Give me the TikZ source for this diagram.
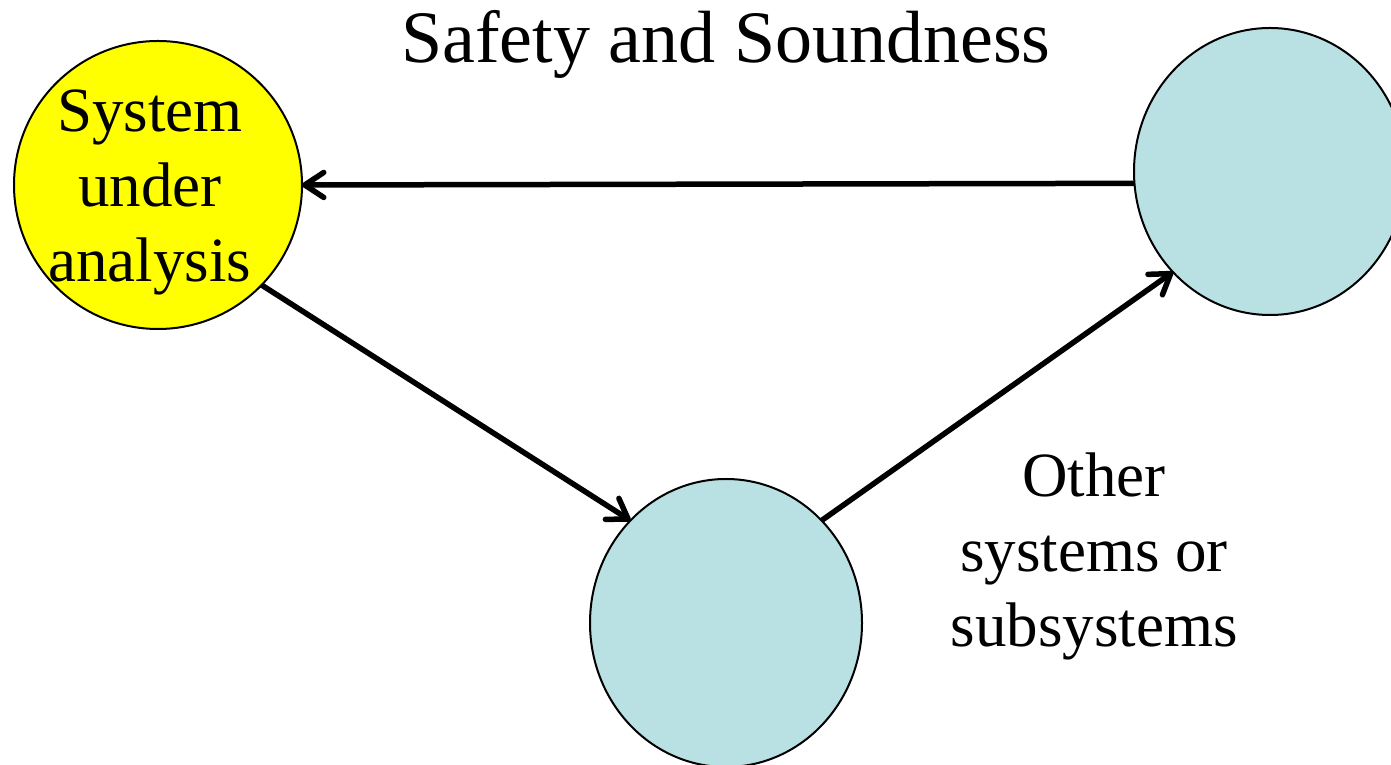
\documentclass[tikz,border=0pt]{standalone}
\usepackage{fontspec}
\setmainfont{Liberation Serif}
\usetikzlibrary{arrows.meta,shapes.geometric}
\definecolor{sysyellow}{RGB}{255,255,0}
\definecolor{sysblue}{RGB}{185,224,227}
\begin{document}
\begin{tikzpicture}[x=1pt,y=1pt,
  sys/.style={ellipse, draw=black, line width=2pt, inner sep=0pt, outer sep=0pt},
  flow/.style={line width=5.5pt, -{Straight Barb[length=19pt,width=25pt,round]}},
  big/.style={font=\fontsize{63}{75}\selectfont, align=center, inner sep=0pt, anchor=base},
  titlestyle/.style={font=\fontsize{74}{89}\selectfont, inner sep=0pt, anchor=base}]
\useasboundingbox (0,0) rectangle (1391,765);
\clip (0,0) rectangle (1391,765);
\node[sys, fill=sysyellow, minimum width=288pt, minimum height=288pt] (sua) at (158,580) {};
\node[sys, fill=sysblue, minimum width=272pt, minimum height=287pt] (tr) at (1270,593.5) {};
\node[sys, fill=sysblue, minimum width=272pt, minimum height=288pt] (bot) at (726,142) {};
\node[titlestyle] (title) at (726,702) {Safety and Soundness};
\node[big] (sualabel) at (150,483) {System\\under\\analysis};
\node[big] (otherlabel) at (1094,118) {Other\\systems or\\subsystems};
\draw[flow] (tr.185.7) -- (sua.east);
\draw[flow] (sua.-44.4) -- (bot.133);
\draw[flow] (bot.47) -- (tr.226.6);
\end{tikzpicture}
\end{document}
